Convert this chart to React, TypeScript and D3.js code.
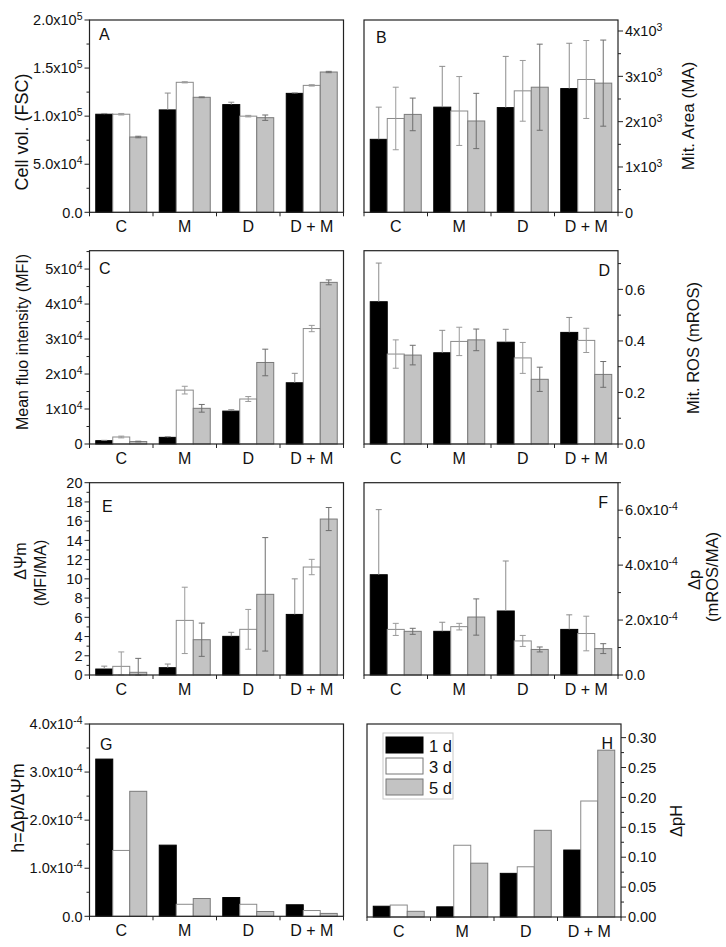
import React from "react";
import * as d3 from "d3";

const categories = ["C", "M", "D", "D + M"];
const seriesLabels = ["1 d", "3 d", "5 d"];

// A: Cell vol. (FSC)
const cellVolMean = [
  [102000, 106500, 112000, 123700],
  [102000, 135200, 100000, 132000],
  [78300, 119600, 98400, 145900],
];
const cellVolErr = [
  [800, 17500, 2500, 500],
  [800, 600, 800, 700],
  [800, 400, 2800, 700],
];
// B: Mit. Area (MA)
const mitAreaMean = [
  [1610, 2320, 2310, 2730],
  [2070, 2235, 2680, 2930],
  [2160, 2015, 2760, 2850],
];
const mitAreaErr = [
  [710, 900, 1130, 1000],
  [690, 760, 670, 860],
  [360, 610, 950, 950],
];
// C: Mean fluo intensity (MFI)
const mfiMean = [
  [950, 1900, 9400, 17500],
  [2000, 15400, 12860, 33000],
  [700, 10200, 23300, 46200],
];
const mfiErr = [
  [100, 200, 400, 2700],
  [250, 1100, 700, 900],
  [100, 1100, 3800, 700],
];
// D: Mit. ROS (mROS)
const rosMean = [
  [0.552, 0.354, 0.395, 0.433],
  [0.349, 0.398, 0.334, 0.402],
  [0.345, 0.404, 0.251, 0.27],
];
const rosErr = [
  [0.15, 0.087, 0.05, 0.058],
  [0.055, 0.055, 0.06, 0.047],
  [0.038, 0.042, 0.047, 0.05],
];
// E: ΔΨm (MFI/MA)
const psiMean = [
  [0.62, 0.76, 4.02, 6.3],
  [0.9, 5.68, 4.75, 11.23],
  [0.28, 3.67, 8.39, 16.22],
];
const psiErr = [
  [0.3, 0.38, 0.42, 3.7],
  [1.5, 3.45, 2.07, 0.8],
  [1.45, 1.73, 5.9, 1.2],
];
// F: Δp (mROS/MA)
const dpMean = [
  [3.65e-4, 1.59e-4, 2.33e-4, 1.66e-4],
  [1.66e-4, 1.76e-4, 1.24e-4, 1.51e-4],
  [1.59e-4, 2.11e-4, 0.93e-4, 0.96e-4],
];
const dpErr = [
  [2.37e-4, 0.33e-4, 1.82e-4, 0.53e-4],
  [0.22e-4, 0.12e-4, 0.2e-4, 0.63e-4],
  [0.11e-4, 0.66e-4, 0.09e-4, 0.18e-4],
];
// G: h = Δp/ΔΨm
const hMean = [
  [3.27e-4, 1.48e-4, 0.39e-4, 0.24e-4],
  [1.37e-4, 0.25e-4, 0.25e-4, 0.12e-4],
  [2.6e-4, 0.37e-4, 0.1e-4, 0.06e-4],
];
// H: ΔpH
const dpHMean = [
  [0.018, 0.017, 0.073, 0.112],
  [0.02, 0.12, 0.084, 0.194],
  [0.0095, 0.09, 0.145, 0.279],
];

const FONT = "'Liberation Sans', Arial, Helvetica, sans-serif";
const fills = ["#000000", "#ffffff", "#c3c3c3"];
const strokes = ["#000000", "#8a8a8a", "#7a7a7a"];
const errColors = ["#8c8c8c", "#9a9a9a", "#6e6e6e"];

type Lbl = { main: string; sup?: string };
const sci = (dec: number, zero: string, exp: number) => (v: number): Lbl => {
  if (Math.abs(v) < 1e-15) return { main: zero };
  const m = v / Math.pow(10, exp);
  return { main: m.toFixed(dec) + "x10", sup: String(exp) };
};
const sciAuto = (dec: number, zero: string) => (v: number): Lbl => {
  if (v === 0) return { main: zero };
  const e = Math.floor(Math.log10(v) + 1e-9);
  return { main: (v / Math.pow(10, e)).toFixed(dec) + "x10", sup: String(e) };
};

type PanelProps = {
  left: number;
  right: number;
  top: number;
  bottom: number;
  max: number;
  step: number;
  minorStep: number;
  fmt: (v: number) => Lbl;
  side: "left" | "right";
  means: number[][];
  errs?: number[][];
  letter: string;
  lx: number;
  ly: number;
  lAnchor?: "start" | "end";
};

function Panel(p: PanelProps) {
  const xb = d3
    .scaleBand<string>()
    .domain(categories)
    .range([p.left, p.right])
    .paddingInner(0.197)
    .paddingOuter(0.0985);
  const xs = d3.scaleBand<number>().domain([0, 1, 2]).range([0, xb.bandwidth()]);
  const y = d3.scaleLinear().domain([0, p.max]).range([p.bottom, p.top]);
  const stepW = (p.right - p.left) / categories.length;
  const nMaj = Math.floor(p.max / p.step + 1e-6);
  const majors = d3.range(0, nMaj + 1).map((i) => i * p.step);
  const nMin = Math.floor(p.max / p.minorStep + 1e-6);
  const ratio = Math.round(p.step / p.minorStep);
  const minors = d3
    .range(0, nMin + 1)
    .filter((i) => i % ratio !== 0)
    .map((i) => i * p.minorStep);
  const ax = p.side === "left" ? p.left : p.right;
  const dir = p.side === "left" ? -1 : 1;
  return (
    <g>
      {p.means.map((ser, si) =>
        ser.map((v, ci) => (
          <rect
            key={`b${si}-${ci}`}
            x={xb(categories[ci])! + xs(si)!}
            y={y(v)}
            width={xs.bandwidth()}
            height={p.bottom - y(v)}
            fill={fills[si]}
            stroke={strokes[si]}
            strokeWidth={1}
          />
        ))
      )}
      {p.errs &&
        p.errs.map((ser, si) =>
          ser.map((e, ci) => {
            const v = p.means[si][ci];
            const cx = xb(categories[ci])! + xs(si)! + xs.bandwidth() / 2;
            const yt = y(v + e);
            const yb = si === 0 ? y(v) : y(Math.max(0, v - e));
            return (
              <g key={`e${si}-${ci}`} stroke={errColors[si]} strokeWidth={1}>
                <line x1={cx} x2={cx} y1={yt} y2={yb} />
                <line x1={cx - 3} x2={cx + 3} y1={yt} y2={yt} />
                {si !== 0 && <line x1={cx - 3} x2={cx + 3} y1={yb} y2={yb} />}
              </g>
            );
          })
        )}
      <rect
        x={p.left}
        y={p.top}
        width={p.right - p.left}
        height={p.bottom - p.top}
        fill="none"
        stroke="#222"
        strokeWidth={1.2}
      />
      {d3.range(0, categories.length + 1).map((i) => (
        <line
          key={`xt${i}`}
          x1={p.left + i * stepW}
          x2={p.left + i * stepW}
          y1={p.bottom}
          y2={p.bottom + 4}
          stroke="#222"
        />
      ))}
      {categories.map((c) => (
        <text
          key={`xl${c}`}
          x={xb(c)! + xb.bandwidth() / 2}
          y={p.bottom + 20}
          textAnchor="middle"
          fontSize={16}
          fontFamily={FONT}
          fill="#111"
        >
          {c}
        </text>
      ))}
      {majors.map((v, i) => {
        const l = p.fmt(v);
        return (
          <g key={`yt${i}`}>
            <line x1={ax} x2={ax + dir * 5} y1={y(v)} y2={y(v)} stroke="#222" />
            <text
              x={ax + dir * 7}
              y={y(v)}
              dy="0.36em"
              textAnchor={p.side === "left" ? "end" : "start"}
              fontSize={14.5}
              fontFamily={FONT}
              fill="#111"
            >
              {l.main}
              {l.sup && (
                <tspan dy="-0.5em" fontSize={10.5}>
                  {l.sup}
                </tspan>
              )}
            </text>
          </g>
        );
      })}
      {minors.map((v, i) => (
        <line key={`ym${i}`} x1={ax} x2={ax + dir * 3} y1={y(v)} y2={y(v)} stroke="#222" />
      ))}
      <text
        x={p.lx}
        y={p.ly}
        textAnchor={p.lAnchor || "start"}
        fontSize={16}
        fontFamily={FONT}
        fill="#111"
      >
        {p.letter}
      </text>
    </g>
  );
}

function YLabel({ x, y, text, size = 16 }: { x: number; y: number; text: string; size?: number }) {
  return (
    <text
      transform={`translate(${x},${y}) rotate(-90)`}
      dy="0.35em"
      textAnchor="middle"
      fontSize={size}
      fontFamily={FONT}
      fill="#111"
    >
      {text}
    </text>
  );
}

export default function App() {
  const L = { left: 89.5, right: 343.5 };
  const R = { left: 364, right: 618 };
  return (
    <svg
      width={726}
      height={947}
      viewBox="0 0 726 947"
      style={{ position: "absolute", left: 0, top: 0, background: "#fff" }}
    >
      <rect x={0} y={0} width={726} height={947} fill="#fff" />
      <Panel
        {...L}
        top={20}
        bottom={212.3}
        max={200000}
        step={50000}
        minorStep={25000}
        fmt={sciAuto(1, "0.0")}
        side="left"
        means={cellVolMean}
        errs={cellVolErr}
        letter="A"
        lx={99}
        ly={40}
      />
      <YLabel x={22} y={132} text="Cell vol. (FSC)" size={18} />
      <Panel
        {...R}
        top={20}
        bottom={212.3}
        max={4243}
        step={1000}
        minorStep={500}
        fmt={sciAuto(0, "0")}
        side="right"
        means={mitAreaMean}
        errs={mitAreaErr}
        letter="B"
        lx={376}
        ly={42.5}
      />
      <YLabel x={688} y={116} text="Mit. Area (MA)" size={17} />
      <Panel
        {...L}
        top={250.7}
        bottom={444}
        max={55250}
        step={10000}
        minorStep={5000}
        fmt={sciAuto(0, "0")}
        side="left"
        means={mfiMean}
        errs={mfiErr}
        letter="C"
        lx={99}
        ly={274}
      />
      <YLabel x={22} y={342} text="Mean fluo intensity (MFI)" size={16} />
      <Panel
        {...R}
        top={250.7}
        bottom={444}
        max={0.75}
        step={0.2}
        minorStep={0.1}
        fmt={(v) => ({ main: v.toFixed(1) })}
        side="right"
        means={rosMean}
        errs={rosErr}
        letter="D"
        lx={610}
        ly={275.5}
        lAnchor="end"
      />
      <YLabel x={693} y={348} text="Mit. ROS (mROS)" size={16.5} />
      <Panel
        {...L}
        top={482.7}
        bottom={675}
        max={20}
        step={2}
        minorStep={1}
        fmt={(v) => ({ main: String(Math.round(v)) })}
        side="left"
        means={psiMean}
        errs={psiErr}
        letter="E"
        lx={102}
        ly={512}
      />
      <YLabel x={20} y={561} text="ΔΨm" size={16} />
      <YLabel x={40} y={573} text="(MFI/MA)" size={16} />
      <Panel
        {...R}
        top={482.7}
        bottom={675}
        max={7e-4}
        step={2e-4}
        minorStep={1e-4}
        fmt={sci(1, "0.0", -4)}
        side="right"
        means={dpMean}
        errs={dpErr}
        letter="F"
        lx={608}
        ly={507.5}
        lAnchor="end"
      />
      <YLabel x={694} y={580} text="Δp" size={16.5} />
      <YLabel x={712} y={577} text="(mROS/MA)" size={16.5} />
      <Panel
        {...L}
        top={724}
        bottom={916.3}
        max={4e-4}
        step={1e-4}
        minorStep={0.5e-4}
        fmt={sci(1, "0.0", -4)}
        side="left"
        means={hMean}
        letter="G"
        lx={100}
        ly={750}
      />
      <YLabel x={18} y={808} text="h=Δp/ΔΨm" size={18} />
      <Panel
        left={367}
        right={621}
        top={724}
        bottom={917}
        max={0.3228}
        step={0.05}
        minorStep={0.025}
        fmt={(v) => ({ main: v.toFixed(2) })}
        side="right"
        means={dpHMean}
        letter="H"
        lx={613}
        ly={749}
        lAnchor="end"
      />
      <YLabel x={676} y={821} text="ΔpH" size={16.5} />
      <g>
        <rect x={383} y={733} width={70} height={66} fill="#fff" stroke="#c8c8c8" />
        {seriesLabels.map((s, i) => (
          <g key={s}>
            <rect
              x={386}
              y={737 + i * 21}
              width={37}
              height={16}
              fill={fills[i]}
              stroke={i === 0 ? "#000" : "#777"}
            />
            <text x={429} y={752 + i * 21} fontSize={16.5} fontFamily={FONT} fill="#111">
              {s}
            </text>
          </g>
        ))}
      </g>
    </svg>
  );
}
